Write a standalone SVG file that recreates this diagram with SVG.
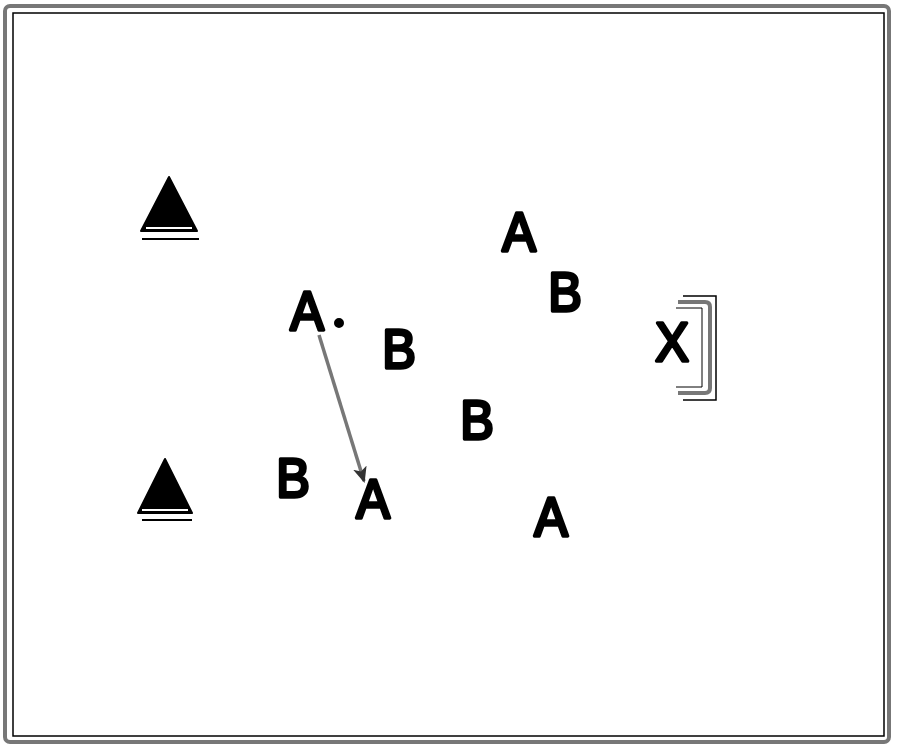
<svg xmlns="http://www.w3.org/2000/svg" width="900" height="752" viewBox="0 0 900 752">
<style>
.lbl{font-family:"Liberation Sans",Arial,sans-serif;font-weight:normal;font-size:56px;fill:#000;stroke:#000;stroke-width:3.5;stroke-linejoin:round;text-anchor:middle}
.tri{fill:#000;stroke:#000;stroke-width:2;stroke-linejoin:round}
.triw{stroke:#fff;stroke-width:2}
.ul{stroke:#000;stroke-width:2}
</style>
<defs>
<marker id="ah" markerWidth="16" markerHeight="14" refX="14" refY="7" orient="auto" markerUnits="userSpaceOnUse" viewBox="0 0 16 14">
<path d="M0,0 L16,7 L0,14 L4,7 z" fill="#333"/>
</marker>
</defs>
<rect x="0" y="0" width="900" height="752" fill="#fff"/>
<g id="frame">
<rect x="5" y="6" width="884" height="736" rx="5" fill="none" stroke="#777" stroke-width="4"/>
<rect x="13" y="13" width="871" height="723" fill="none" stroke="#000" stroke-width="1.5"/>
</g>
<g id="cone1">
<polygon class="tri" points="169,177 197,231 141,231"/>
<line class="triw" x1="146" y1="228" x2="192" y2="228"/>
<line class="ul" x1="142" y1="239" x2="199" y2="239"/>
</g>
<g id="cone2">
<polygon class="tri" points="165,459 192,513 138,513"/>
<line class="triw" x1="142" y1="510" x2="188" y2="510"/>
<line class="ul" x1="142" y1="520" x2="192" y2="520"/>
</g>
<g id="a1"><text class="lbl" transform="matrix(0.9 0 0 1 307 330)">A</text></g>
<g id="dot"><circle cx="339" cy="323" r="2.5" fill="#fff" stroke="#000" stroke-width="5"/></g>
<g id="b1"><text class="lbl" transform="matrix(0.9 0 0 1 399 368)">B</text></g>
<g id="b2"><text class="lbl" transform="matrix(0.9 0 0 1 293 497)">B</text></g>
<g id="a2"><text class="lbl" transform="matrix(0.9 0 0 1 373 518)">A</text></g>
<g id="a3"><text class="lbl" transform="matrix(0.9 0 0 1 519 251)">A</text></g>
<g id="b3"><text class="lbl" transform="matrix(0.9 0 0 1 565 311)">B</text></g>
<g id="b4"><text class="lbl" transform="matrix(0.9 0 0 1 477 439)">B</text></g>
<g id="a4"><text class="lbl" transform="matrix(0.9 0 0 1 551 536)">A</text></g>
<g id="x1"><text class="lbl" transform="matrix(0.9 0 0 1 672 361)">X</text></g>
<g id="goal">
<path d="M683,296 H716 V400 H683" fill="none" stroke="#000" stroke-width="1.5"/>
<path d="M678,302 H705 Q710,302 710,307 V388 Q710,393 705,393 H678" fill="none" stroke="#777" stroke-width="4"/>
<path d="M676,308 H702 V387 H676" fill="none" stroke="#000" stroke-width="1"/>
</g>
<g id="connectors">
<line x1="319" y1="335" x2="364" y2="481" stroke="#777" stroke-width="3.5" marker-end="url(#ah)"/>
</g>
</svg>
